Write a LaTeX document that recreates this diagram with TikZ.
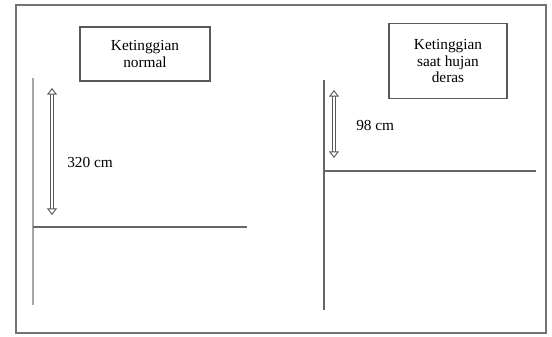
\documentclass[tikz,border=0pt]{standalone}
\usepackage{fontspec}
\setmainfont{Liberation Serif}
\usetikzlibrary{arrows.meta, positioning}

\tikzset{
  label box/.style={draw=black!65, line width=0.8pt, align=center, font=\fontsize{11.5}{12.5}\selectfont, inner sep=0pt},
  level line/.style={draw=black!60, line width=1pt},
  wall line/.style={draw=black!35, line width=1pt},
  height arrow/.style={draw=black!65, double=white, double distance=1.8pt, line width=0.7pt,
    {Triangle[open, length=5pt, width=7.5pt]}-{Triangle[open, length=5pt, width=7.5pt]}},
  value text/.style={font=\fontsize{11.5}{13}\selectfont, inner sep=0pt}
}

\begin{document}
\begin{tikzpicture}[x=0.75pt, y=-0.75pt]
\useasboundingbox (0,0) rectangle (552,336);
\draw[draw=black!55, line width=1pt] (16,5) rectangle (546,333);

% Normal level
\node[label box, minimum width=130*0.75pt, minimum height=54*0.75pt] (normal) at (145,54) {Ketinggian\\normal};
\coordinate (wallL top) at (33,78);
\coordinate (wallL bot) at (33,305);
\coordinate (levelL end) at (247,227);
\coordinate (arrL top) at (52,88);
\coordinate (arrL bot) at (52,215);
\draw[wall line] (wallL top) -- (wallL bot);
\draw[level line] (wallL top |- levelL end) -- (levelL end);
\draw[height arrow] (arrL top) -- (arrL bot);
\node[value text, anchor=west] (valL) at (67,162) {320 cm};

% Level during heavy rain
\node[label box, minimum width=118*0.75pt, minimum height=75*0.75pt] (rain) at (448,61) {Ketinggian\\saat hujan\\deras};
\coordinate (wallR top) at (324,80);
\coordinate (wallR bot) at (324,310);
\coordinate (levelR end) at (536,171);
\coordinate (arrR top) at (334,90);
\coordinate (arrR bot) at (334,158);
\draw[level line] (wallR top) -- (wallR bot);
\draw[level line] (wallR top |- levelR end) -- (levelR end);
\draw[height arrow] (arrR top) -- (arrR bot);
\node[value text, anchor=west] (valR) at (356,125) {98 cm};
\end{tikzpicture}
\end{document}
